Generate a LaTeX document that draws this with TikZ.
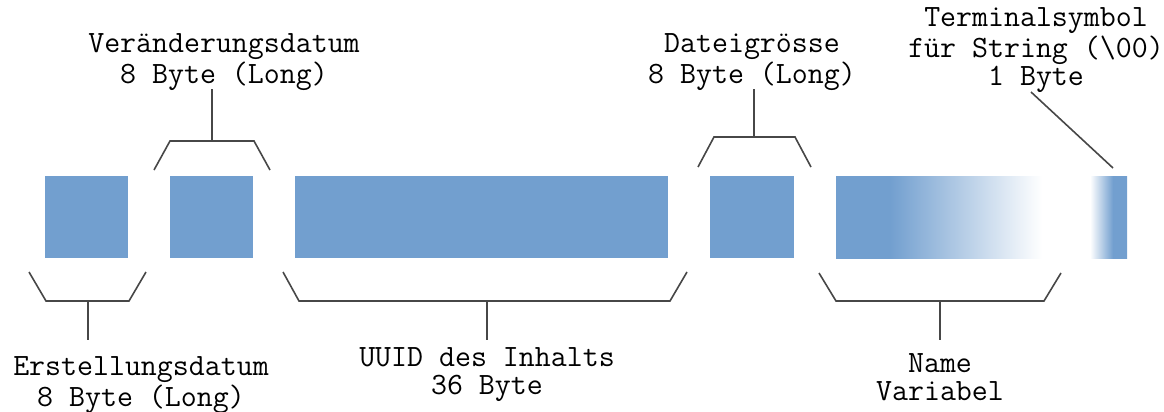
\documentclass[tikz,border=0pt]{standalone}
\usepackage{fontspec}
\begin{document}
\definecolor{fieldblue}{HTML}{729FCF}
\definecolor{bracegray}{HTML}{474747}
% horizontal fades; the path spans 25bp..75bp of the shading
\pgfdeclarehorizontalshading{namefade}{100bp}{%
  color(0bp)=(fieldblue); color(25bp)=(fieldblue); color(38.1bp)=(fieldblue);
  color(75bp)=(white); color(100bp)=(white)}
\pgfdeclarehorizontalshading{termfade}{100bp}{%
  color(0bp)=(white); color(25bp)=(white); color(56.1bp)=(fieldblue);
  color(75bp)=(fieldblue); color(100bp)=(fieldblue)}
\begin{tikzpicture}[x=0.5pt,y=-0.5pt,
  field/.style={fill=fieldblue, draw=none},
  brace/.style={draw=bracegray, line width=0.8pt, line join=miter},
  lbl/.style={font=\ttfamily\fontsize{15.5}{14}\selectfont, text=black, align=center, inner sep=0pt}]
\useasboundingbox (0,0) rectangle (1164,412);

% record fields
\fill[field] (45,176) rectangle (128,258);
\fill[field] (170,176) rectangle (253,258);
\fill[field] (295,176) rectangle (668,258);
\fill[field] (710,176) rectangle (794,258);
% variable-length name, fading out
\shade[shading=namefade] (836,176) rectangle (1042,258);
% terminator byte, fading in
\shade[shading=termfade] (1090,176) rectangle (1127,258);

% braces above
\draw[brace] (154,170) -- (170,141) -- (254,141) -- (270,170);
\coordinate (t2) at (212,141);
\coordinate (t2e) at (212,89);
\draw[brace] (t2) -- (t2e);
\draw[brace] (698,167) -- (714,137) -- (795,137) -- (811,167);
\coordinate (t4) at (754,137);
\coordinate (t4e) at (754,89);
\draw[brace] (t4) -- (t4e);
\coordinate (t6) at (1113,168);
\coordinate (t6e) at (1031,92);
\draw[brace] (t6) -- (t6e);

% braces below
\draw[brace] (29,272) -- (46,301) -- (129,301) -- (146,272);
\coordinate (u1) at (88,301);
\coordinate (u1e) at (88,340);
\draw[brace] (u1) -- (u1e);
\draw[brace] (283,272) -- (299,301) -- (670,301) -- (687,272);
\coordinate (u3) at (487,301);
\coordinate (u3e) at (487,340);
\draw[brace] (u3) -- (u3e);
\draw[brace] (819,273) -- (836,301) -- (1044,301) -- (1061,273);
\coordinate (u5) at (940,301);
\coordinate (u5e) at (940,340);
\draw[brace] (u5) -- (u5e);

% labels
\node[lbl] (l2) at (224,62) {Veränderungsdatum\\8 Byte (Long)};
\node[lbl] (l4) at (752,62) {Dateigrösse\\8 Byte (Long)};
\node[lbl] (l6) at (1036,50) {Terminalsymbol\\für String (\textbackslash 00)\\1 Byte};
\node[lbl] (l1) at (141,385) {Erstellungsdatum\\8 Byte (Long)};
\node[lbl] (l3) at (487,375) {UUID des Inhalts\\36 Byte};
\node[lbl] (l5) at (940,377) {Name\\Variabel};
\end{tikzpicture}
\end{document}
